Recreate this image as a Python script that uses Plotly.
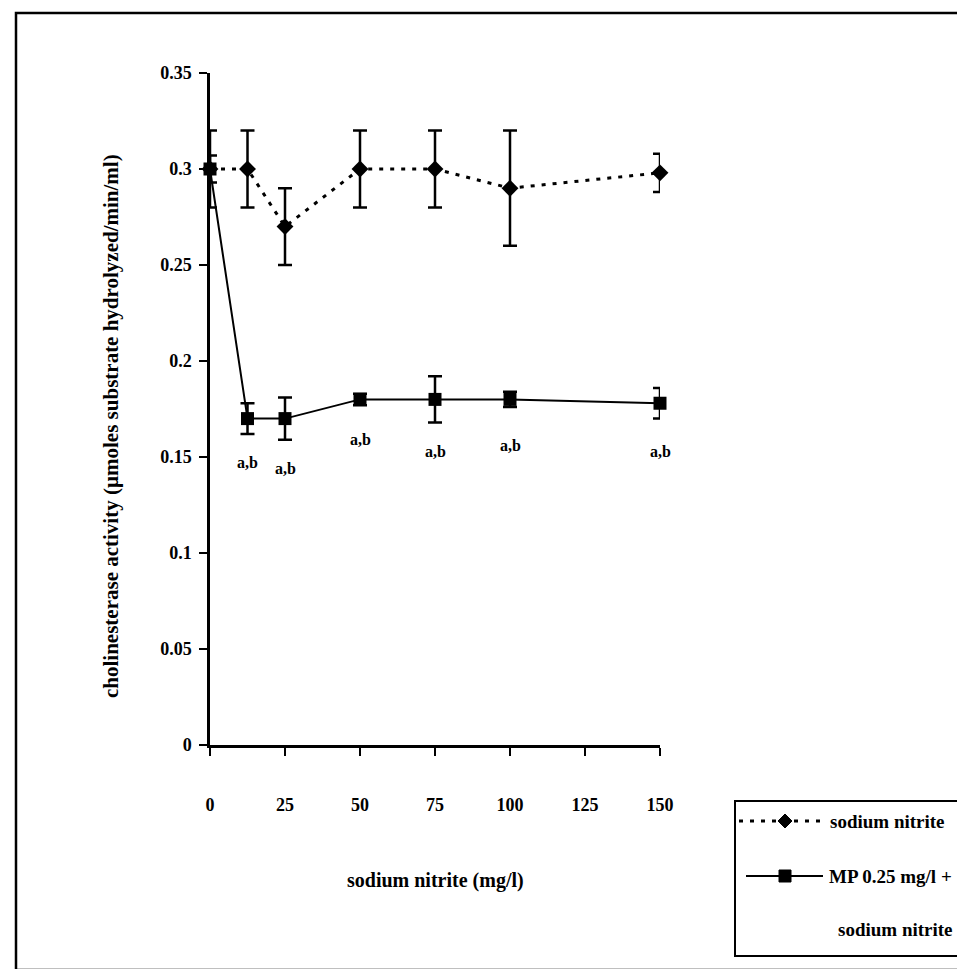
import plotly.graph_objects as go

# ---------------- data ----------------
nitrite_conc = [0, 12.5, 25, 50, 75, 100, 150]          # sodium nitrite (mg/l)
nitrite_mean = [0.30, 0.30, 0.27, 0.30, 0.30, 0.29, 0.298]
nitrite_err = [0.02, 0.02, 0.02, 0.02, 0.02, 0.03, 0.01]
mp_mean = [0.30, 0.17, 0.17, 0.18, 0.18, 0.18, 0.178]
mp_err = [0.007, 0.008, 0.011, 0.003, 0.012, 0.004, 0.008]
sig_labels = ["", "a,b", "a,b", "a,b", "a,b", "a,b", "a,b"]
sig_label_y = [None, 0.147, 0.144, 0.159, 0.153, 0.156, 0.153]
x_ticks = [0, 25, 50, 75, 100, 125, 150]
y_ticks = [0, 0.05, 0.1, 0.15, 0.2, 0.25, 0.3, 0.35]

# ---------------- layout geometry ----------------
W, H = 965, 969
L, R, T, B = 202, 313, 65, 232
PW = W - L - R
PH = H - T - B


def px_x(p):
    return (p - L) / PW


def px_y(p):
    return (H - B - p) / PH


FONT = "Liberation Serif"
DOT = "4px,7px"

fig = go.Figure()

fig.add_trace(go.Scatter(
    x=nitrite_conc, y=nitrite_mean, mode="lines+markers", name="sodium nitrite",
    line=dict(color="black", width=3, dash=DOT),
    marker=dict(symbol="diamond", size=13, color="black"),
    error_y=dict(type="data", array=nitrite_err, visible=True, color="black",
                 thickness=2.5, width=7),
    cliponaxis=False, showlegend=False))

fig.add_trace(go.Scatter(
    x=nitrite_conc, y=mp_mean, mode="lines+markers", name="MP 0.25 mg/l + sodium nitrite",
    line=dict(color="black", width=2),
    marker=dict(symbol="square", size=13, color="black"),
    error_y=dict(type="data", array=mp_err, visible=True, color="black",
                 thickness=2.5, width=7),
    cliponaxis=False, showlegend=False))

annotations = []
for xv, lab, ly in zip(nitrite_conc, sig_labels, sig_label_y):
    if lab:
        annotations.append(dict(x=xv, y=ly, xref="x", yref="y", text=lab, showarrow=False,
                                font=dict(family=FONT, size=16, color="black", weight="bold"),
                                xanchor="center", yanchor="middle"))

# axis titles
annotations.append(dict(x=0.5, y=px_y(872), xref="paper", yref="paper",
                        text="sodium nitrite (mg/l)", showarrow=False,
                        font=dict(family=FONT, size=20, color="black", weight="bold"),
                        xanchor="center", yanchor="middle"))
annotations.append(dict(x=px_x(103), y=px_y(418), xref="paper", yref="paper",
                        text="cholinesterase activity (µmoles substrate hydrolyzed/min/ml)",
                        showarrow=False, textangle=-90,
                        font=dict(family=FONT, size=21, color="black", weight="bold"),
                        xanchor="center", yanchor="middle"))

# custom legend texts
leg_font = dict(family=FONT, size=19, color="black", weight="bold")
annotations.append(dict(x=px_x(820), y=px_y(813), xref="paper", yref="paper",
                        text="sodium nitrite", showarrow=False, font=leg_font,
                        xanchor="left", yanchor="middle"))
annotations.append(dict(x=px_x(819), y=px_y(868), xref="paper", yref="paper",
                        text="MP 0.25 mg/l +", showarrow=False, font=leg_font,
                        xanchor="left", yanchor="middle"))
annotations.append(dict(x=px_x(828), y=px_y(921), xref="paper", yref="paper",
                        text="sodium nitrite", showarrow=False, font=leg_font,
                        xanchor="left", yanchor="middle"))

shapes = [
    # outer frame
    dict(type="rect", xref="paper", yref="paper", x0=px_x(8), x1=px_x(963),
         y0=px_y(5), y1=px_y(962), line=dict(color="black", width=2.5)),
    # legend box
    dict(type="rect", xref="paper", yref="paper", x0=px_x(727), x1=px_x(961),
         y0=px_y(793), y1=px_y(948), line=dict(color="black", width=2),
         fillcolor="white", layer="below"),
    # legend sample lines
    dict(type="line", xref="paper", yref="paper", x0=px_x(731), x1=px_x(817),
         y0=px_y(813), y1=px_y(813), line=dict(color="black", width=3, dash=DOT)),
    dict(type="line", xref="paper", yref="paper", x0=px_x(738), x1=px_x(815),
         y0=px_y(868), y1=px_y(868), line=dict(color="black", width=2)),
    # legend diamond
    dict(type="path", xref="paper", yref="paper",
         path="M {a},{b} L {c},{d} L {a},{e} L {f},{d} Z".format(
             a=px_x(777), b=px_y(806), c=px_x(784), d=px_y(813), e=px_y(820), f=px_x(770)),
         fillcolor="black", line=dict(color="black", width=1)),
    # legend square
    dict(type="rect", xref="paper", yref="paper", x0=px_x(771), x1=px_x(783),
         y0=px_y(862), y1=px_y(874), fillcolor="black", line=dict(color="black", width=1)),
]

tick_font = dict(family=FONT, size=18, color="black", weight="bold")

fig.update_layout(
    width=W, height=H,
    margin=dict(l=L, r=R, t=T, b=B, autoexpand=False),
    paper_bgcolor="white", plot_bgcolor="white",
    showlegend=False,
    annotations=annotations,
    shapes=shapes,
    xaxis=dict(range=[0, 150], tickvals=x_ticks, ticktext=[str(v) for v in x_ticks],
               showgrid=False, zeroline=False, showline=True, linecolor="black", linewidth=2.5,
               ticks="outside", ticklen=8, tickwidth=2, tickcolor="black",
               tickfont=tick_font, ticklabelstandoff=34),
    yaxis=dict(range=[0, 0.35], tickvals=y_ticks,
               ticktext=["0", "0.05", "0.1", "0.15", "0.2", "0.25", "0.3", "0.35"],
               showgrid=False, zeroline=False, showline=True, linecolor="black", linewidth=2.5,
               ticks="outside", ticklen=8, tickwidth=2, tickcolor="black",
               tickfont=tick_font, ticklabelstandoff=4),
    xaxis2=dict(range=[0, 150], overlaying="x", anchor="y", side="bottom",
                tickvals=x_ticks, showticklabels=False, showgrid=False, zeroline=False,
                showline=False, ticks="inside", ticklen=8, tickwidth=2, tickcolor="black"),
    yaxis2=dict(range=[0, 0.35], overlaying="y", anchor="x", side="left",
                tickvals=y_ticks, showticklabels=False, showgrid=False, zeroline=False,
                showline=False, ticks="inside", ticklen=8, tickwidth=2, tickcolor="black"),
)

fig.write_html("out.html")
